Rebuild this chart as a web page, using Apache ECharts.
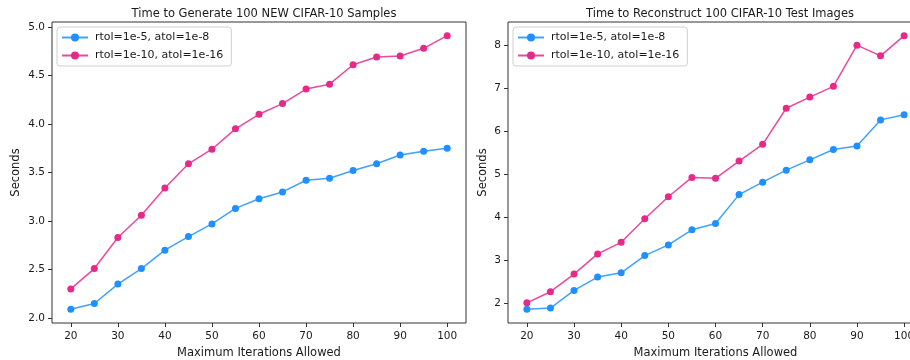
<!DOCTYPE html>
<html>
<head>
<meta charset="utf-8">
<script src="https://cdn.jsdelivr.net/npm/echarts@6/dist/echarts.min.js"></script>
<style>html,body{margin:0;padding:0;background:#fff;}#c{width:910px;height:360px;}</style>
</head>
<body>
<div id="c"></div>
<script>
var iterations = [20, 25, 30, 35, 40, 45, 50, 55, 60, 65, 70, 75, 80, 85, 90, 95, 100];
var genLoose  = [2.09, 2.15, 2.35, 2.51, 2.70, 2.84, 2.97, 3.13, 3.23, 3.30, 3.42, 3.44, 3.52, 3.59, 3.68, 3.72, 3.75];
var genStrict = [2.30, 2.51, 2.83, 3.06, 3.34, 3.59, 3.74, 3.95, 4.10, 4.21, 4.36, 4.41, 4.61, 4.69, 4.70, 4.78, 4.91];
var recLoose  = [1.85, 1.88, 2.29, 2.60, 2.70, 3.10, 3.35, 3.70, 3.85, 4.52, 4.81, 5.09, 5.33, 5.57, 5.65, 6.26, 6.38];
var recStrict = [2.00, 2.26, 2.67, 3.14, 3.41, 3.96, 4.47, 4.92, 4.90, 5.30, 5.69, 6.53, 6.79, 7.04, 8.00, 7.75, 8.22];
var xTicks = [20, 30, 40, 50, 60, 70, 80, 90, 100];
var yTicksLeft = [2.0, 2.5, 3.0, 3.5, 4.0, 4.5, 5.0];
var yTicksRight = [2, 3, 4, 5, 6, 7, 8];
var titles = ['Time to Generate 100 NEW CIFAR-10 Samples', 'Time to Reconstruct 100 CIFAR-10 Test Images'];
var seriesNames = ['rtol=1e-5, atol=1e-8', 'rtol=1e-10, atol=1e-16'];
var xLabel = 'Maximum Iterations Allowed';
var yLabel = 'Seconds';

var BLUE = '#1E90FF', PINK = '#E7298A';
var FONT = 'DejaVu Sans';
var AX = '#333';
var TXT = '#1a1a1a';

function pairs(v) { return iterations.map(function (x, i) { return [x, v[i]]; }); }
function padMin(v) { return v.min - 0.05 * (v.max - v.min); }
function padMax(v) { return v.max + 0.05 * (v.max - v.min); }

var grids = [
  { left: 52, top: 22, width: 414, height: 301 },
  { left: 508, top: 22, width: 415, height: 301 }
];

function xAxis(gi) {
  return {
    type: 'value', gridIndex: gi, min: padMin, max: padMax,
    name: xLabel, nameLocation: 'middle', nameGap: 21,
    nameTextStyle: { fontFamily: FONT, fontSize: 11.5, color: TXT },
    axisLine: { show: false },
    axisTick: { show: true, inside: false, length: 4, lineStyle: { color: AX }, customValues: xTicks },
    axisLabel: { show: true, margin: 8, fontFamily: FONT, fontSize: 10.5, color: TXT, customValues: xTicks },
    splitLine: { show: false }
  };
}
function yAxis(gi, ticks, dec, gap) {
  return {
    type: 'value', gridIndex: gi, min: padMin, max: padMax,
    name: yLabel, nameLocation: 'middle', nameGap: gap, nameRotate: 90,
    nameTextStyle: { fontFamily: FONT, fontSize: 11.5, color: TXT },
    axisLine: { show: false },
    axisTick: { show: true, inside: false, length: 4, lineStyle: { color: AX }, customValues: ticks },
    axisLabel: { show: true, margin: 7, fontFamily: FONT, fontSize: 10.5, color: TXT, customValues: ticks,
      formatter: function (v) { return v.toFixed(dec); } },
    splitLine: { show: false }
  };
}
function line(name, color, data, gi) {
  return {
    type: 'line', name: name, xAxisIndex: gi, yAxisIndex: gi, data: pairs(data),
    symbol: 'circle', symbolSize: 7, showSymbol: true,
    itemStyle: { color: color },
    lineStyle: { color: color, width: 1.5, opacity: 0.85 },
    emphasis: { disabled: true }
  };
}
function legend(left) {
  return {
    orient: 'vertical', left: left, top: 27, data: seriesNames,
    itemWidth: 26, itemHeight: 10, itemGap: 7,
    padding: [5, 8, 5, 4],
    backgroundColor: '#fff', borderColor: '#d0d0d0', borderWidth: 1, borderRadius: 3,
    textStyle: { fontFamily: FONT, fontSize: 11, color: TXT, padding: [0, 0, 0, 2] },
    selectedMode: false
  };
}

var chart = echarts.init(document.getElementById('c'), null, { renderer: 'canvas' });
chart.setOption({
  animation: false,
  backgroundColor: '#fff',
  title: [
    { text: titles[0], left: 259, top: 3, textAlign: 'center', textStyle: { fontFamily: FONT, fontSize: 11.5, fontWeight: 'normal', color: TXT } },
    { text: titles[1], left: 715, top: 3, textAlign: 'center', textStyle: { fontFamily: FONT, fontSize: 11.5, fontWeight: 'normal', color: TXT } }
  ],
  grid: grids.map(function (g) { return Object.assign({ show: true, borderColor: AX, borderWidth: 1, backgroundColor: 'transparent', outerBoundsMode: 'none', containLabel: false }, g); }),
  xAxis: [xAxis(0), xAxis(1)],
  yAxis: [yAxis(0, yTicksLeft, 1, 30), yAxis(1, yTicksRight, 0, 19)],
  legend: [legend(57), legend(513)],
  series: [
    line(seriesNames[0], BLUE, genLoose, 0),
    line(seriesNames[1], PINK, genStrict, 0),
    line(seriesNames[0], BLUE, recLoose, 1),
    line(seriesNames[1], PINK, recStrict, 1)
  ]
});
</script>
</body>
</html>
